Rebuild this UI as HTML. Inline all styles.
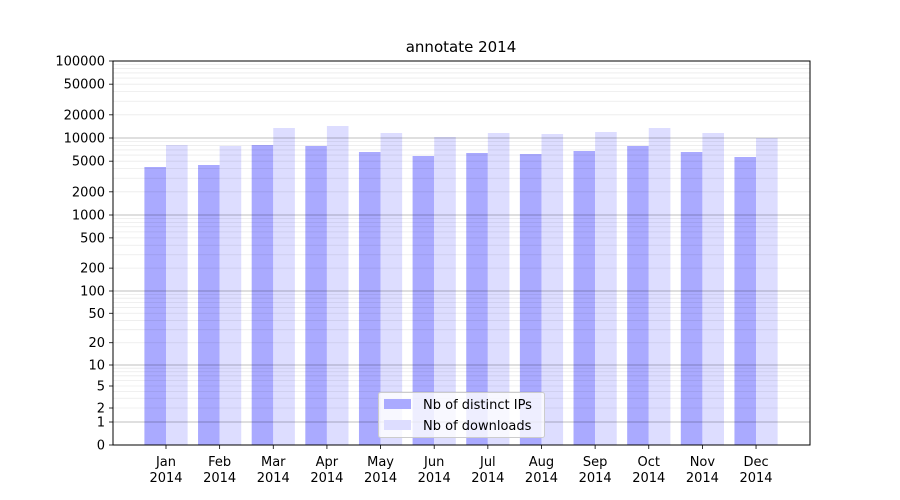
<!DOCTYPE html>
<html><head><meta charset="utf-8"><style>body{margin:0;background:#fff}svg{display:block;font-family:"DejaVu Sans","Liberation Sans",sans-serif}</style></head>
<body><svg id="s" width="900" height="500" xmlns="http://www.w3.org/2000/svg"></svg>
<script>
function Y(v){if(v<=1)return 445-23*v;var l=Math.log10(v);
if(l<=1){var a=Math.log10(2),b=Math.log10(5);
 if(l<=a)return 422-14*l/a; if(l<=b)return 408-22*(l-a)/(b-a); return 386-21*(l-b)/(1-b);}
if(l<=2)return 365-74*(l-1);if(l<=3)return 291-76*(l-2);return 215-77*(l-3);}
var s='';
var tops=[[167,145],[165,146],[145,128],[146,126],[152,133],[156,137],[153,133],[154,134],[151,132],[146,128],[152,133],[157,138]];
var m=['Jan','Feb','Mar','Apr','May','Jun','Jul','Aug','Sep','Oct','Nov','Dec'];
for(var i=0;i<12;i++){var c=166+i*53.64;
s+='<rect x="'+(c-21.6)+'" y="'+tops[i][0]+'" width="21.6" height="'+(445-tops[i][0])+'" fill="#aaaaff"/>';
s+='<rect x="'+c+'" y="'+tops[i][1]+'" width="21.6" height="'+(445-tops[i][1])+'" fill="#ddddff"/>';
s+='<line x1="'+c+'" x2="'+c+'" y1="445" y2="449" stroke="#000" stroke-width="0.8"/>';
s+='<text x="'+c+'" y="466" font-size="13" text-anchor="middle">'+m[i]+'</text><text x="'+c+'" y="482" font-size="13" text-anchor="middle">2014</text>';}
for(var d=1;d<=10000;d*=10){for(var k=2;k<=9;k++){var y=Y(d*k);s+='<line x1="113" x2="810" y1="'+y+'" y2="'+y+'" stroke="rgba(0,0,0,0.08)" stroke-width="0.8"/>';}}
[1,10,100,1000,10000].forEach(function(v){var y=Y(v);s+='<line x1="113" x2="810" y1="'+y+'" y2="'+y+'" stroke="rgba(0,0,0,0.25)" stroke-width="1"/>';});
[0,1,2,5,10,20,50,100,200,500,1000,2000,5000,10000,20000,50000,100000].forEach(function(v){var y=Y(v);
s+='<line x1="109" x2="113" y1="'+y+'" y2="'+y+'" stroke="#000" stroke-width="0.8"/><text x="105" y="'+(y+4.5)+'" font-size="13" text-anchor="end">'+v+'</text>';});
s+='<rect x="113" y="61" width="697" height="384" fill="none" stroke="#000" stroke-width="1"/>';
s+='<text x="461" y="52" font-size="15" text-anchor="middle">annotate 2014</text>';
s+='<rect x="378.5" y="392.5" width="166" height="45" rx="2" fill="#fff" fill-opacity="0.8" stroke="#ccc"/>';
s+='<rect x="384" y="399" width="27" height="10" fill="#aaaaff"/><text x="423" y="409" font-size="13">Nb of distinct IPs</text>';
s+='<rect x="384" y="420" width="27" height="10" fill="#ddddff"/><text x="423" y="430" font-size="13">Nb of downloads</text>';
document.getElementById('s').innerHTML=s;
</script></body></html>
